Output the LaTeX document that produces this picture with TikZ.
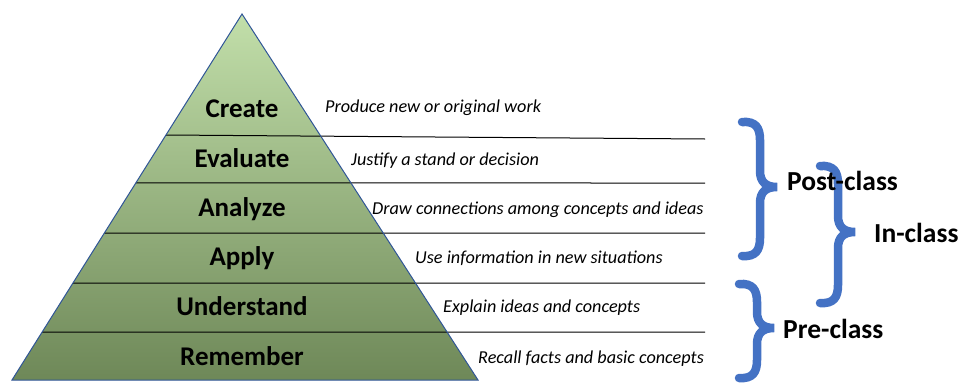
\documentclass[tikz,border=0pt]{standalone}
\usepackage{fontspec}
\setmainfont{Carlito}
\usepackage{xcolor}
\usepackage{tikz}
\usetikzlibrary{calc}
\definecolor{pyrtop}{HTML}{C2DFAA}
\definecolor{pyrbot}{HTML}{6E8858}
\definecolor{pyredge}{HTML}{2F5597}
\definecolor{braceblue}{HTML}{4472C4}
\tikzset{
  level/.style ={font=\bfseries\fontsize{27}{31}\selectfont, inner sep=0pt, anchor=base},
  desc/.style  ={font=\itshape\fontsize{18.2}{22}\selectfont, inner sep=0pt, anchor=base west},
  phase/.style ={font=\bfseries\fontsize{27.5}{31}\selectfont, inner sep=0pt, anchor=base west},
  sepline/.style ={draw=black, line width=1pt},
  bracestyle/.style={draw=braceblue, line width=8.5pt, line cap=round}
}
% curly brace: back x, top y, tip y, bottom y
\newcommand{\curlybrace}[4]{%
  \draw[bracestyle] (#1-18,#2) .. controls (#1-4,#2-1) and (#1,#2+6) .. (#1,#2+18)
    -- (#1,#3-16) .. controls (#1,#3-5) and (#1+6,#3) .. (#1+17,#3)
    .. controls (#1+6,#3) and (#1,#3+5) .. (#1,#3+16)
    -- (#1,#4-18) .. controls (#1,#4-6) and (#1-4,#4+1) .. (#1-18,#4);}

\begin{document}
\begin{tikzpicture}[x=1pt, y=-1pt]
    \useasboundingbox (0,0) rectangle (958,383);
    % pyramid
    \coordinate (apex) at (242,14);
    \coordinate (bl) at (12,380);
    \coordinate (br) at (478,380);
    \shade[top color=pyrtop, bottom color=pyrbot] (apex) -- (bl) -- (br) -- cycle;
    % level separators
    \draw[sepline] ($(apex)!0.3306!(bl)$) -- (705,139);
    \draw[sepline] ($(apex)!0.4617!(bl)$) -- (705,183);
    \draw[sepline] ($(apex)!0.5984!(bl)$) -- (705,233);
    \draw[sepline] ($(apex)!0.7350!(bl)$) -- (705,283);
    \draw[sepline] ($(apex)!0.8689!(bl)$) -- (705,332);
    \draw[pyredge, line width=1pt] (apex) -- (bl) -- (br) -- cycle;
    % levels
    \node[level] (create) at (242,117) {Create};
    \node[level] (evaluate) at (242,167) {Evaluate};
    \node[level] (analyze) at (242,216) {Analyze};
    \node[level] (apply) at (242,265) {Apply};
    \node[level] (understand) at (242,315) {Understand};
    \node[level] (remember) at (242,365) {Remember};
    % descriptions
    \node[desc] (dcreate) at (325,112) {Produce new or original work};
    \node[desc] (devaluate) at (351,165) {Justify a stand or decision};
    \node[desc] (danalyze) at (372,214) {Draw connections among concepts and ideas};
    \node[desc] (dapply) at (415,263) {Use information in new situations};
    \node[desc] (dunderstand) at (443,312) {Explain ideas and concepts};
    \node[desc] (dremember) at (478,363) {Recall facts and basic concepts};
    % braces
    \curlybrace{760}{122}{187}{256}
    \curlybrace{838}{166}{232}{303}
    \curlybrace{757}{284}{328}{378}
    % phases
    \node[phase] (post) at (787,190) {Post-class};
    \node[phase] (inclass) at (874,242) {In-class};
    \node[phase] (pre) at (783,338) {Pre-class};
  \end{tikzpicture}
\end{document}
